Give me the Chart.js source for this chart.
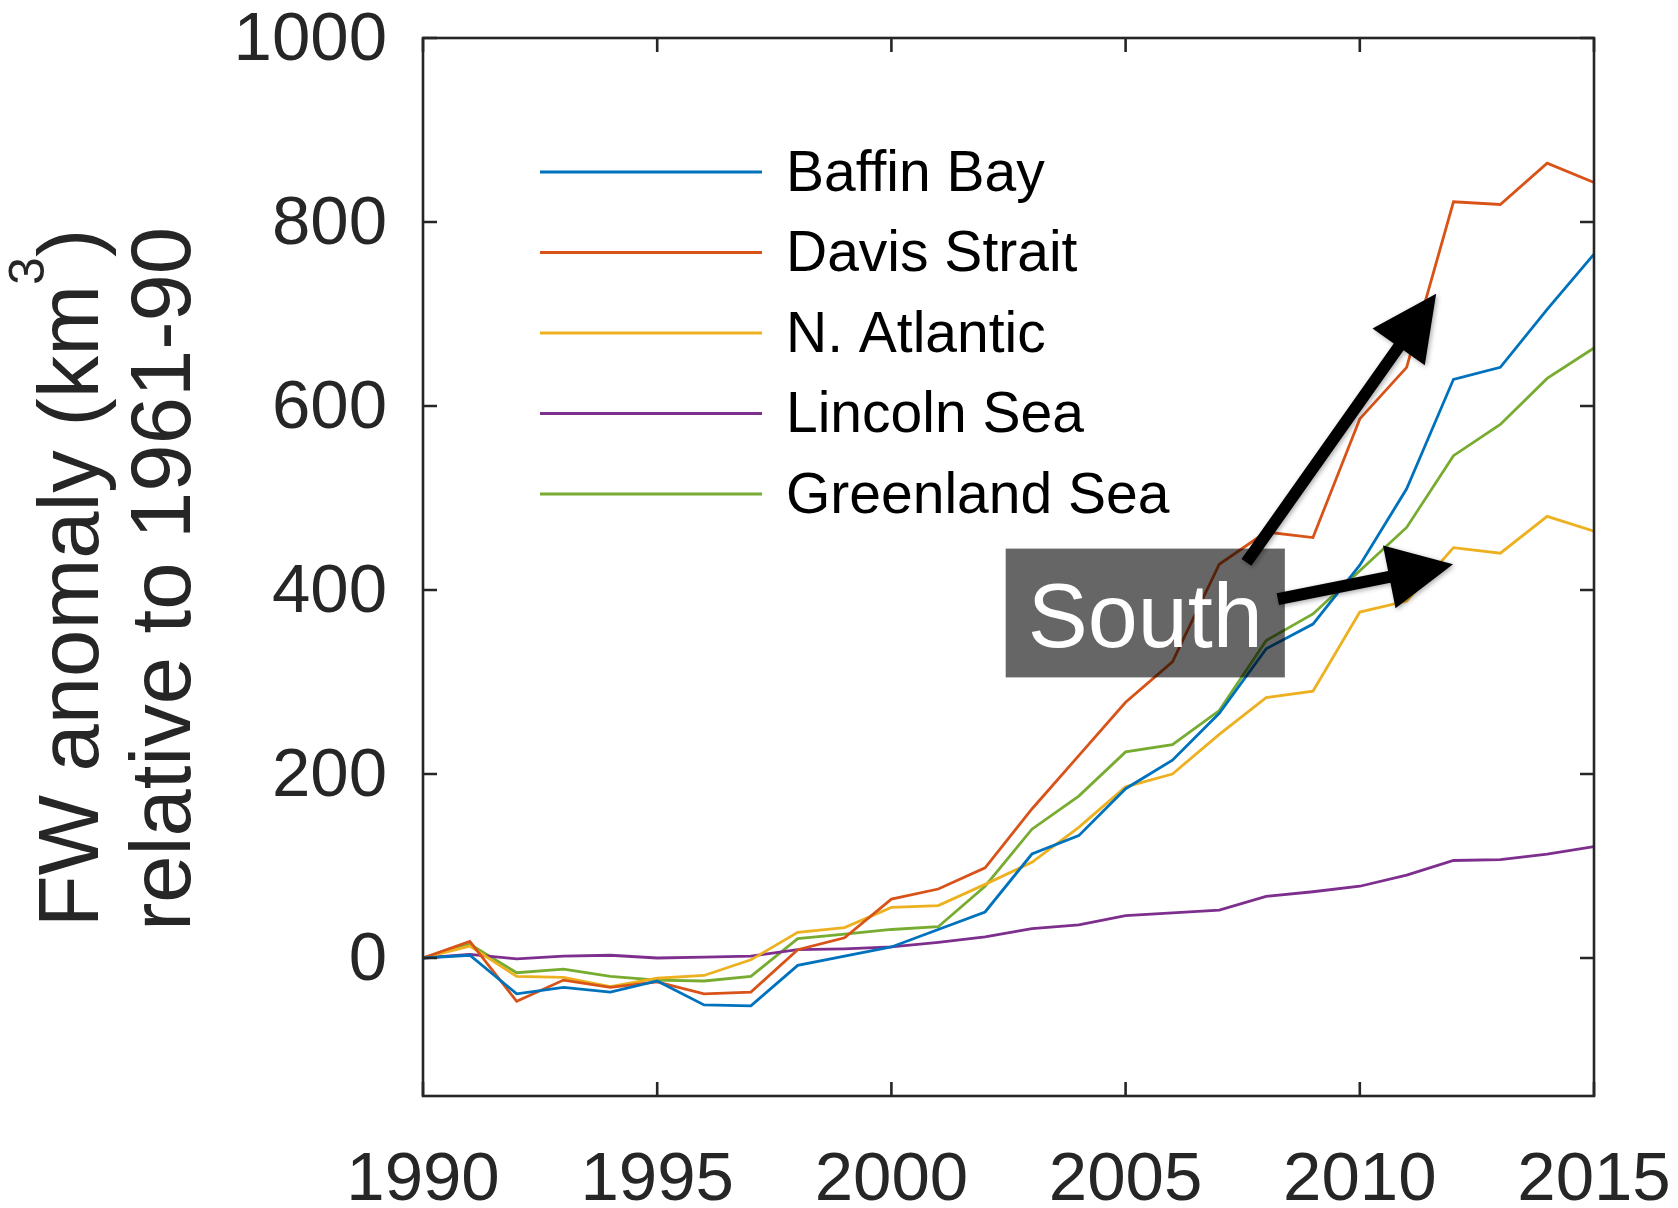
<!DOCTYPE html>
<html>
<head>
<meta charset="utf-8">
<title>FW anomaly</title>
<script src="https://cdn.jsdelivr.net/npm/chart.js@4.4.1/dist/chart.umd.min.js"></script>
<style>
  html, body { margin: 0; padding: 0; background: #ffffff; }
  canvas { display: block; }
</style>
</head>
<body>
<canvas id="fw" width="1678" height="1208"></canvas>
<script>
// Freshwater anomaly (km^3) relative to 1961-90, by region
const years = [1990, 1991, 1992, 1993, 1994, 1995, 1996, 1997, 1998, 1999, 2000, 2001, 2002,
               2003, 2004, 2005, 2006, 2007, 2008, 2009, 2010, 2011, 2012, 2013, 2014, 2015];

const baffinBay    = [0, 3, -39, -32, -37, -25, -51, -52, -8, 2, 12, 31, 50,
                      113, 133, 184, 215, 266, 336, 363, 427, 510, 629, 642, 705, 765];
const davisStrait  = [0, 18, -47, -24, -32, -26, -39, -37, 9, 22, 64, 75, 98,
                      162, 220, 278, 322, 428, 463, 457, 586, 642, 822, 819, 864, 843];
const nAtlantic    = [0, 13, -20, -21, -31, -22, -19, -2, 28, 33, 55, 57, 80,
                      104, 142, 186, 200, 243, 283, 290, 376, 388, 446, 440, 480, 464];
const lincolnSea   = [0, 4, -1, 2, 3, 0, 1, 2, 9, 10, 12, 17, 23,
                      32, 36, 46, 49, 52, 67, 72, 78, 90, 106, 107, 113, 121];
const greenlandSea = [0, 15, -16, -12, -20, -24, -25, -20, 21, 26, 31, 34, 78,
                      140, 176, 224, 232, 269, 345, 374, 421, 468, 546, 580, 630, 663];

const seriesNames  = ['Baffin Bay', 'Davis Strait', 'N. Atlantic', 'Lincoln Sea', 'Greenland Sea'];
const seriesValues = [baffinBay, davisStrait, nAtlantic, lincolnSea, greenlandSea];
const seriesColors = ['#0072BD', '#D95319', '#EDB120', '#7E2F8E', '#77AC30'];

const xTickValues = [1990, 1995, 2000, 2005, 2010, 2015];
const yTickValues = [0, 200, 400, 600, 800, 1000];
const xRange = [1990, 2015];
const yRange = [-150, 1000];

const yTitleLine1 = ['FW anomaly (km', '3', ')'];   // base, superscript, tail
const yTitleLine2 = 'relative to 1961-90';
const calloutLabel = 'South';

// Callout box and arrows, placed in data units (year, km^3)
const calloutBox = { x0: 2002.44, x1: 2008.40, y0: 305, y1: 445 };
const calloutArrows = [
  { from: [2007.58, 430], to: [2011.63, 722] },
  { from: [2008.25, 390], to: [2011.99, 428] }
];

const FONT = '"Liberation Sans", Arial, Helvetica, sans-serif';
const AXIS_COLOR = '#262626';
const LINE_WIDTH = 2.8;

const decorations = {
  id: 'decorations',
  afterDatasetsDraw(chart) {
    const ctx = chart.ctx;
    const a = chart.chartArea;
    const xs = chart.scales.x, ys = chart.scales.y;

    // axes box with inward ticks on all four sides
    ctx.save();
    ctx.strokeStyle = AXIS_COLOR;
    ctx.lineWidth = 2.6;
    ctx.strokeRect(a.left, a.top, a.right - a.left, a.bottom - a.top);
    const tl = 14;
    ctx.beginPath();
    xTickValues.forEach(v => {
      const px = xs.getPixelForValue(v);
      ctx.moveTo(px, a.bottom); ctx.lineTo(px, a.bottom - tl);
      ctx.moveTo(px, a.top);    ctx.lineTo(px, a.top + tl);
    });
    yTickValues.forEach(v => {
      const py = ys.getPixelForValue(v);
      ctx.moveTo(a.left, py);  ctx.lineTo(a.left + tl, py);
      ctx.moveTo(a.right, py); ctx.lineTo(a.right - tl, py);
    });
    ctx.stroke();
    ctx.restore();

    // legend (no frame)
    ctx.save();
    const lgX0 = a.left + 117, lgX1 = a.left + 339, lgText = a.left + 363;
    const lgY0 = a.top + 134, lgStep = 80.5;
    ctx.font = '57px ' + FONT;
    ctx.textBaseline = 'middle';
    ctx.textAlign = 'left';
    chart.data.datasets.forEach((ds, i) => {
      const y = lgY0 + i * lgStep;
      ctx.strokeStyle = ds.borderColor;
      ctx.lineWidth = LINE_WIDTH;
      ctx.beginPath(); ctx.moveTo(lgX0, y); ctx.lineTo(lgX1, y); ctx.stroke();
      ctx.fillStyle = '#000000';
      ctx.fillText(ds.label, lgText, y + 3);
    });
    ctx.restore();

    // callout box
    ctx.save();
    const bx0 = xs.getPixelForValue(calloutBox.x0), bx1 = xs.getPixelForValue(calloutBox.x1);
    const by0 = ys.getPixelForValue(calloutBox.y1), by1 = ys.getPixelForValue(calloutBox.y0);
    ctx.fillStyle = 'rgba(0,0,0,0.6)';
    ctx.fillRect(bx0, by0, bx1 - bx0, by1 - by0);
    ctx.fillStyle = '#ffffff';
    ctx.font = '90px ' + FONT;
    ctx.textAlign = 'center';
    ctx.textBaseline = 'alphabetic';
    ctx.fillText(calloutLabel, (bx0 + bx1) / 2, by0 + 98);
    ctx.restore();

    // arrows
    ctx.save();
    ctx.fillStyle = '#000000';
    ctx.shadowColor = 'rgba(0,0,0,0.35)';
    ctx.shadowBlur = 5;
    ctx.shadowOffsetX = 1.5;
    ctx.shadowOffsetY = 1.5;
    calloutArrows.forEach(ar => {
      const x0 = xs.getPixelForValue(ar.from[0]), y0 = ys.getPixelForValue(ar.from[1]);
      const x1 = xs.getPixelForValue(ar.to[0]),   y1 = ys.getPixelForValue(ar.to[1]);
      const dx = x1 - x0, dy = y1 - y0, len = Math.hypot(dx, dy);
      const ux = dx / len, uy = dy / len, nx = -uy, ny = ux;
      const headLen = 65, headHalf = 32, shaftHalf = 6;
      const bxm = x1 - ux * headLen, bym = y1 - uy * headLen;
      ctx.beginPath();
      ctx.moveTo(x0 + nx * shaftHalf, y0 + ny * shaftHalf);
      ctx.lineTo(bxm + nx * shaftHalf, bym + ny * shaftHalf);
      ctx.lineTo(bxm + nx * headHalf, bym + ny * headHalf);
      ctx.lineTo(x1, y1);
      ctx.lineTo(bxm - nx * headHalf, bym - ny * headHalf);
      ctx.lineTo(bxm - nx * shaftHalf, bym - ny * shaftHalf);
      ctx.lineTo(x0 - nx * shaftHalf, y0 - ny * shaftHalf);
      ctx.closePath();
      ctx.fill();
    });
    ctx.restore();
  },
  afterDraw(chart) {
    // two-line rotated y-axis title with superscript
    const ctx = chart.ctx;
    const cy = 578;
    ctx.save();
    ctx.fillStyle = AXIS_COLOR;
    ctx.textBaseline = 'alphabetic';
    ctx.textAlign = 'left';

    const mainFont = '85px ' + FONT, supFont = '50px ' + FONT;

    ctx.save();
    ctx.translate(98, cy);
    ctx.rotate(-Math.PI / 2);
    ctx.font = mainFont;
    const w1 = ctx.measureText(yTitleLine1[0]).width;
    const w3 = ctx.measureText(yTitleLine1[2]).width;
    ctx.font = supFont;
    const w2 = ctx.measureText(yTitleLine1[1]).width;
    let sx = -(w1 + w2 + w3) / 2;
    ctx.font = mainFont;
    ctx.fillText(yTitleLine1[0], sx, 0);
    sx += w1;
    ctx.font = supFont;
    ctx.fillText(yTitleLine1[1], sx, -54);
    sx += w2;
    ctx.font = mainFont;
    ctx.fillText(yTitleLine1[2], sx, 0);
    ctx.restore();

    ctx.save();
    ctx.translate(190, cy + 1);
    ctx.rotate(-Math.PI / 2);
    ctx.font = mainFont;
    ctx.textAlign = 'center';
    ctx.fillText(yTitleLine2, 0, 0);
    ctx.restore();

    ctx.restore();
  }
};

new Chart(document.getElementById('fw'), {
  type: 'line',
  data: {
    datasets: seriesValues.map((vals, i) => ({
      label: seriesNames[i],
      data: years.map((yr, j) => ({ x: yr, y: vals[j] })),
      borderColor: seriesColors[i],
      backgroundColor: seriesColors[i],
      borderWidth: LINE_WIDTH,
      pointRadius: 0,
      tension: 0,
      fill: false
    }))
  },
  options: {
    responsive: false,
    animation: false,
    devicePixelRatio: 1,
    layout: { padding: { left: 0, top: 38, right: 84, bottom: 0 } },
    plugins: { legend: { display: false }, tooltip: { enabled: false } },
    scales: {
      x: {
        type: 'linear',
        min: xRange[0], max: xRange[1],
        afterBuildTicks: s => { s.ticks = xTickValues.map(v => ({ value: v })); },
        afterFit: s => { s.height = 112; s.paddingLeft = 0; s.paddingRight = 0; },
        grid: { display: false, drawTicks: false },
        border: { display: false },
        ticks: {
          autoSkip: false, maxRotation: 0, padding: 44,
          color: AXIS_COLOR,
          font: { family: FONT, size: 69 },
          callback: v => String(v)
        }
      },
      y: {
        type: 'linear',
        min: yRange[0], max: yRange[1],
        afterBuildTicks: s => { s.ticks = yTickValues.map(v => ({ value: v })); },
        afterFit: s => { s.width = 423; s.paddingTop = 0; s.paddingBottom = 0; },
        grid: { display: false, drawTicks: false },
        border: { display: false },
        ticks: {
          padding: 36,
          labelOffset: 3,
          color: AXIS_COLOR,
          font: { family: FONT, size: 69 },
          callback: v => String(v)
        }
      }
    }
  },
  plugins: [decorations]
});
</script>
</body>
</html>
